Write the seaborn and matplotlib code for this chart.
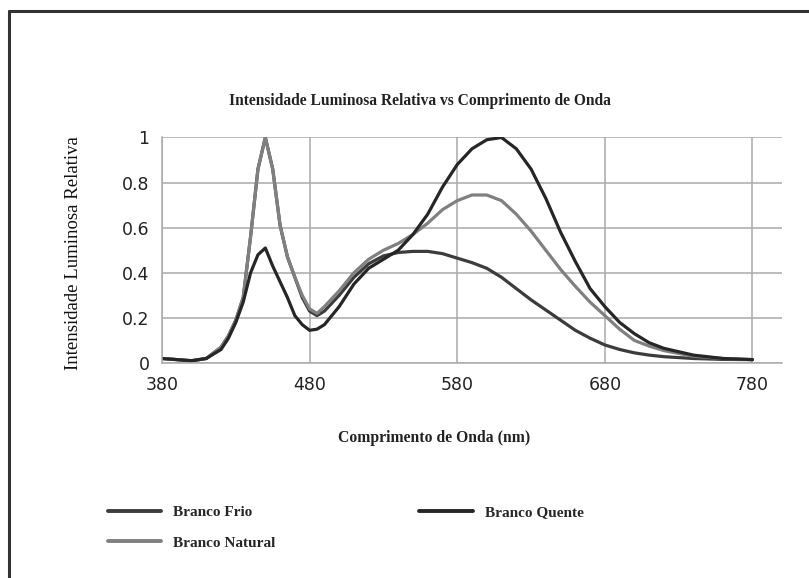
import numpy as np
import pandas as pd
import matplotlib.pyplot as plt
import seaborn as sns
from matplotlib.lines import Line2D

# Comprimentos de onda (nm)
comprimento = [380, 390, 400, 410, 420, 425, 430, 435, 440, 445, 450, 455, 460,
               465, 470, 475, 480, 485, 490, 500, 510, 520, 530, 540, 550, 560,
               570, 580, 590, 600, 610, 620, 630, 640, 650, 660, 670, 680, 690,
               700, 710, 720, 740, 760, 780]

branco_frio = [0.02, 0.015, 0.01, 0.02, 0.07, 0.12, 0.19, 0.29, 0.56, 0.86, 1.0, 0.86, 0.61,
               0.47, 0.38, 0.29, 0.23, 0.21, 0.23, 0.30, 0.38, 0.44, 0.475, 0.49, 0.495, 0.495,
               0.485, 0.465, 0.445, 0.42, 0.38, 0.33, 0.28, 0.235, 0.19, 0.145, 0.11, 0.08, 0.06,
               0.045, 0.035, 0.028, 0.02, 0.016, 0.015]

branco_natural = [0.02, 0.015, 0.01, 0.02, 0.07, 0.12, 0.19, 0.29, 0.56, 0.86, 1.0, 0.86, 0.61,
                  0.47, 0.38, 0.30, 0.24, 0.22, 0.25, 0.32, 0.40, 0.46, 0.50, 0.53, 0.57, 0.62,
                  0.68, 0.72, 0.745, 0.745, 0.72, 0.66, 0.585, 0.50, 0.415, 0.34, 0.27, 0.21, 0.15,
                  0.10, 0.075, 0.055, 0.03, 0.02, 0.015]

branco_quente = [0.02, 0.015, 0.01, 0.02, 0.06, 0.11, 0.18, 0.27, 0.40, 0.48, 0.51, 0.43, 0.36,
                 0.29, 0.21, 0.17, 0.145, 0.15, 0.17, 0.25, 0.35, 0.42, 0.46, 0.50, 0.57, 0.66,
                 0.78, 0.88, 0.95, 0.99, 1.0, 0.95, 0.86, 0.73, 0.58, 0.45, 0.33, 0.25, 0.18,
                 0.13, 0.09, 0.065, 0.035, 0.02, 0.015]

series = ["Branco Frio", "Branco Natural", "Branco Quente"]
cores = {"Branco Frio": "#3c3c3c", "Branco Natural": "#808080", "Branco Quente": "#262626"}

df = pd.concat([
    pd.DataFrame({"nm": comprimento, "valor": branco_frio, "serie": "Branco Frio"}),
    pd.DataFrame({"nm": comprimento, "valor": branco_natural, "serie": "Branco Natural"}),
    pd.DataFrame({"nm": comprimento, "valor": branco_quente, "serie": "Branco Quente"}),
])

sns.set_style("whitegrid")
plt.rcParams['font.family'] = ['DejaVu Sans']

fig = plt.figure(figsize=(8.09, 5.78), dpi=100)
ax = fig.add_axes([162 / 809, 1 - 363 / 578, (782 - 162) / 809, (363 - 137.5) / 578])

sns.lineplot(data=df, x="nm", y="valor", hue="serie", hue_order=series, palette=cores,
             estimator=None, sort=False, linewidth=2.3, ax=ax, legend=False)

ax.set_xlim(380, 800)
ax.set_ylim(0, 1)
ax.set_xticks([380, 480, 580, 680, 780])
ax.set_yticks([0, 0.2, 0.4, 0.6, 0.8, 1])
ax.set_yticklabels(["0", "0.2", "0.4", "0.6", "0.8", "1"])
ax.tick_params(axis="both", labelsize=12.5, colors="#222222", length=0, pad=9)
ax.grid(True, color="#aaaaaa", linewidth=1.1)
for s in ["top", "right"]:
    ax.spines[s].set_visible(False)
for s in ["left", "bottom"]:
    ax.spines[s].set_color("#aaaaaa")
    ax.spines[s].set_linewidth(1.1)
ax.set_xlabel("")
ax.set_ylabel("")

# Textos (titulo e eixos em serif)
fig.text(420 / 809, 1 - 101 / 578, "Intensidade Luminosa Relativa vs Comprimento de Onda",
         family="Liberation Serif", weight="bold", fontsize=11.2, ha="center", va="center",
         color="#222222")
fig.text(434 / 809, 1 - 438 / 578, "Comprimento de Onda (nm)",
         family="Liberation Serif", weight="bold", fontsize=11.3, ha="center", va="center",
         color="#222222")
fig.text(73 / 809, 1 - 253 / 578, "Intensidade Luminosa Relativa",
         family="Liberation Serif", fontsize=13.5, rotation=90, ha="center", va="center",
         color="#111111")

# Legenda
handles = [Line2D([], [], color=cores[s], linewidth=2.8) for s in series]
fig.legend(handles, series, loc="upper left", bbox_to_anchor=(100 / 809, 1 - 498 / 578),
           ncol=2, frameon=False, handlelength=3.5, handletextpad=0.8,
           columnspacing=9.4, labelspacing=1.1, borderpad=0,
           prop={"family": "Liberation Serif", "weight": "bold", "size": 11})

# Moldura externa
fig.add_artist(Line2D([9 / 809, 9 / 809], [0, 1 - 11 / 578], color="#333333", linewidth=2.2,
                      transform=fig.transFigure))
fig.add_artist(Line2D([9 / 809, 1], [1 - 11 / 578, 1 - 11 / 578], color="#333333",
                      linewidth=2.2, transform=fig.transFigure))

fig.savefig("out.png", dpi=100)
